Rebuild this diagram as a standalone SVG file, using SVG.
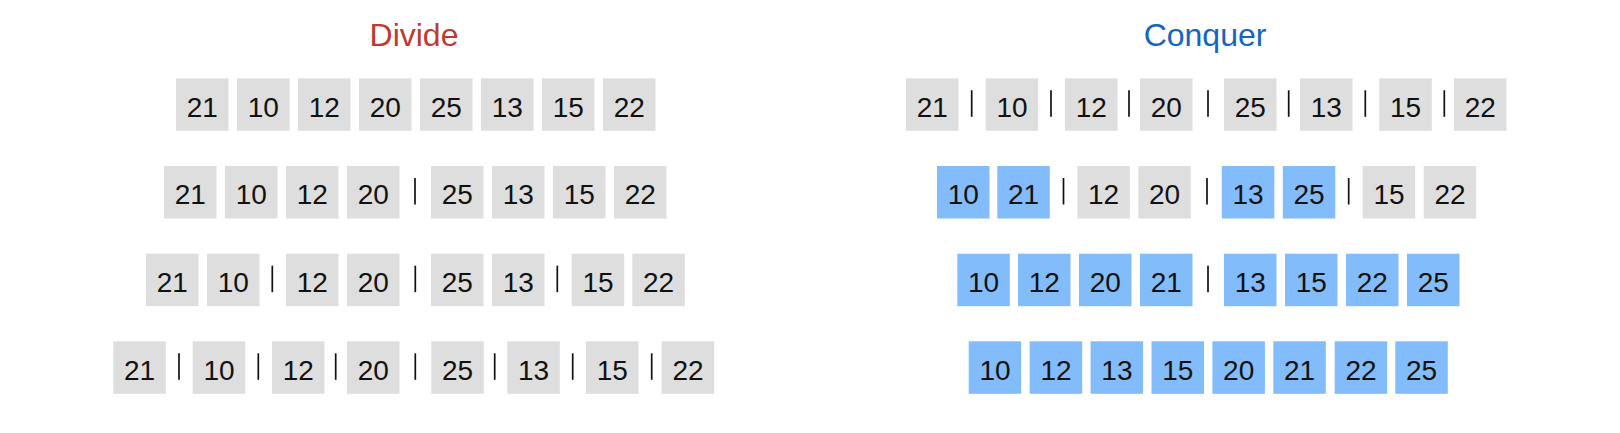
<svg xmlns="http://www.w3.org/2000/svg" width="1620" height="433" viewBox="0 0 1620 433">
<style>
.g{fill:#dedede}
.b{fill:#82bcfa}
.t{font-family:"Liberation Sans",Arial,sans-serif;font-size:28px;fill:#111;text-anchor:middle}
.h{font-family:"Liberation Sans",Arial,sans-serif;font-size:32px;text-anchor:middle}
.s{stroke:#111;stroke-width:1.7}
</style>
<defs>
<rect id="bx" width="52.5" height="52.5"/>
</defs>
<g id="title-divide"><text class="h" x="414" y="45.5" fill="#bf3a30">Divide</text></g>
<g id="title-conquer"><text class="h" x="1205" y="45.5" fill="#1565c0">Conquer</text></g>

<!-- Divide row 1 -->
<g id="d1-1"><use href="#bx" class="g" x="176" y="78.3"/><text class="t" x="202.3" y="116.7">21</text></g>
<g id="d1-2"><use href="#bx" class="g" x="237" y="78.3"/><text class="t" x="263.3" y="116.7">10</text></g>
<g id="d1-3"><use href="#bx" class="g" x="298" y="78.3"/><text class="t" x="324.3" y="116.7">12</text></g>
<g id="d1-4"><use href="#bx" class="g" x="359" y="78.3"/><text class="t" x="385.3" y="116.7">20</text></g>
<g id="d1-5"><use href="#bx" class="g" x="420" y="78.3"/><text class="t" x="446.3" y="116.7">25</text></g>
<g id="d1-6"><use href="#bx" class="g" x="481" y="78.3"/><text class="t" x="507.3" y="116.7">13</text></g>
<g id="d1-7"><use href="#bx" class="g" x="542" y="78.3"/><text class="t" x="568.3" y="116.7">15</text></g>
<g id="d1-8"><use href="#bx" class="g" x="603" y="78.3"/><text class="t" x="629.3" y="116.7">22</text></g>

<!-- Divide row 2 -->
<g id="d2-1"><use href="#bx" class="g" x="164" y="166"/><text class="t" x="190.3" y="204.4">21</text></g>
<g id="d2-2"><use href="#bx" class="g" x="225" y="166"/><text class="t" x="251.3" y="204.4">10</text></g>
<g id="d2-3"><use href="#bx" class="g" x="286" y="166"/><text class="t" x="312.3" y="204.4">12</text></g>
<g id="d2-4"><use href="#bx" class="g" x="347" y="166"/><text class="t" x="373.3" y="204.4">20</text></g>
<g id="d2-5"><use href="#bx" class="g" x="431" y="166"/><text class="t" x="457.3" y="204.4">25</text></g>
<g id="d2-6"><use href="#bx" class="g" x="492" y="166"/><text class="t" x="518.3" y="204.4">13</text></g>
<g id="d2-7"><use href="#bx" class="g" x="553" y="166"/><text class="t" x="579.3" y="204.4">15</text></g>
<g id="d2-8"><use href="#bx" class="g" x="614" y="166"/><text class="t" x="640.3" y="204.4">22</text></g>

<!-- Divide row 3 -->
<g id="d3-1"><use href="#bx" class="g" x="146" y="253.7"/><text class="t" x="172.3" y="292.1">21</text></g>
<g id="d3-2"><use href="#bx" class="g" x="207" y="253.7"/><text class="t" x="233.3" y="292.1">10</text></g>
<g id="d3-3"><use href="#bx" class="g" x="286" y="253.7"/><text class="t" x="312.3" y="292.1">12</text></g>
<g id="d3-4"><use href="#bx" class="g" x="347" y="253.7"/><text class="t" x="373.3" y="292.1">20</text></g>
<g id="d3-5"><use href="#bx" class="g" x="431" y="253.7"/><text class="t" x="457.3" y="292.1">25</text></g>
<g id="d3-6"><use href="#bx" class="g" x="492" y="253.7"/><text class="t" x="518.3" y="292.1">13</text></g>
<g id="d3-7"><use href="#bx" class="g" x="571.7" y="253.7"/><text class="t" x="598" y="292.1">15</text></g>
<g id="d3-8"><use href="#bx" class="g" x="632.3" y="253.7"/><text class="t" x="658.6" y="292.1">22</text></g>

<!-- Divide row 4 -->
<g id="d4-1"><use href="#bx" class="g" x="113.3" y="341.3"/><text class="t" x="139.6" y="379.7">21</text></g>
<g id="d4-2"><use href="#bx" class="g" x="192.7" y="341.3"/><text class="t" x="219" y="379.7">10</text></g>
<g id="d4-3"><use href="#bx" class="g" x="272" y="341.3"/><text class="t" x="298.3" y="379.7">12</text></g>
<g id="d4-4"><use href="#bx" class="g" x="347" y="341.3"/><text class="t" x="373.3" y="379.7">20</text></g>
<g id="d4-5"><use href="#bx" class="g" x="431.3" y="341.3"/><text class="t" x="457.6" y="379.7">25</text></g>
<g id="d4-6"><use href="#bx" class="g" x="507.3" y="341.3"/><text class="t" x="533.6" y="379.7">13</text></g>
<g id="d4-7"><use href="#bx" class="g" x="586" y="341.3"/><text class="t" x="612.3" y="379.7">15</text></g>
<g id="d4-8"><use href="#bx" class="g" x="661.7" y="341.3"/><text class="t" x="688" y="379.7">22</text></g>

<!-- Conquer row 1 -->
<g id="c1-1"><use href="#bx" class="g" x="906" y="78.3"/><text class="t" x="932.3" y="116.7">21</text></g>
<g id="c1-2"><use href="#bx" class="g" x="985.7" y="78.3"/><text class="t" x="1012" y="116.7">10</text></g>
<g id="c1-3"><use href="#bx" class="g" x="1065" y="78.3"/><text class="t" x="1091.3" y="116.7">12</text></g>
<g id="c1-4"><use href="#bx" class="g" x="1140" y="78.3"/><text class="t" x="1166.3" y="116.7">20</text></g>
<g id="c1-5"><use href="#bx" class="g" x="1224" y="78.3"/><text class="t" x="1250.3" y="116.7">25</text></g>
<g id="c1-6"><use href="#bx" class="g" x="1300" y="78.3"/><text class="t" x="1326.3" y="116.7">13</text></g>
<g id="c1-7"><use href="#bx" class="g" x="1379.3" y="78.3"/><text class="t" x="1405.6" y="116.7">15</text></g>
<g id="c1-8"><use href="#bx" class="g" x="1454" y="78.3"/><text class="t" x="1480.3" y="116.7">22</text></g>

<!-- Conquer row 2 -->
<g id="c2-1"><use href="#bx" class="b" x="937" y="166"/><text class="t" x="963.3" y="204.4">10</text></g>
<g id="c2-2"><use href="#bx" class="b" x="997.3" y="166"/><text class="t" x="1023.6" y="204.4">21</text></g>
<g id="c2-3"><use href="#bx" class="g" x="1077.3" y="166"/><text class="t" x="1103.6" y="204.4">12</text></g>
<g id="c2-4"><use href="#bx" class="g" x="1138.3" y="166"/><text class="t" x="1164.6" y="204.4">20</text></g>
<g id="c2-5"><use href="#bx" class="b" x="1221.8" y="166"/><text class="t" x="1248.1" y="204.4">13</text></g>
<g id="c2-6"><use href="#bx" class="b" x="1282.8" y="166"/><text class="t" x="1309.1" y="204.4">25</text></g>
<g id="c2-7"><use href="#bx" class="g" x="1362.7" y="166"/><text class="t" x="1389" y="204.4">15</text></g>
<g id="c2-8"><use href="#bx" class="g" x="1423.7" y="166"/><text class="t" x="1450" y="204.4">22</text></g>

<!-- Conquer row 3 -->
<g id="c3-1"><use href="#bx" class="b" x="957.3" y="253.7"/><text class="t" x="983.6" y="292.1">10</text></g>
<g id="c3-2"><use href="#bx" class="b" x="1018" y="253.7"/><text class="t" x="1044.3" y="292.1">12</text></g>
<g id="c3-3"><use href="#bx" class="b" x="1079" y="253.7"/><text class="t" x="1105.3" y="292.1">20</text></g>
<g id="c3-4"><use href="#bx" class="b" x="1140" y="253.7"/><text class="t" x="1166.3" y="292.1">21</text></g>
<g id="c3-5"><use href="#bx" class="b" x="1224" y="253.7"/><text class="t" x="1250.3" y="292.1">13</text></g>
<g id="c3-6"><use href="#bx" class="b" x="1285" y="253.7"/><text class="t" x="1311.3" y="292.1">15</text></g>
<g id="c3-7"><use href="#bx" class="b" x="1346" y="253.7"/><text class="t" x="1372.3" y="292.1">22</text></g>
<g id="c3-8"><use href="#bx" class="b" x="1407" y="253.7"/><text class="t" x="1433.3" y="292.1">25</text></g>

<!-- Conquer row 4 -->
<g id="c4-1"><use href="#bx" class="b" x="968.7" y="341.3"/><text class="t" x="995" y="379.7">10</text></g>
<g id="c4-2"><use href="#bx" class="b" x="1029.7" y="341.3"/><text class="t" x="1056" y="379.7">12</text></g>
<g id="c4-3"><use href="#bx" class="b" x="1090.6" y="341.3"/><text class="t" x="1116.9" y="379.7">13</text></g>
<g id="c4-4"><use href="#bx" class="b" x="1151.5" y="341.3"/><text class="t" x="1177.8" y="379.7">15</text></g>
<g id="c4-5"><use href="#bx" class="b" x="1212.4" y="341.3"/><text class="t" x="1238.7" y="379.7">20</text></g>
<g id="c4-6"><use href="#bx" class="b" x="1273.3" y="341.3"/><text class="t" x="1299.6" y="379.7">21</text></g>
<g id="c4-7"><use href="#bx" class="b" x="1334.7" y="341.3"/><text class="t" x="1361" y="379.7">22</text></g>
<g id="c4-8"><use href="#bx" class="b" x="1395.3" y="341.3"/><text class="t" x="1421.6" y="379.7">25</text></g>

<g id="separators" class="s">
<line x1="415" y1="178" x2="415" y2="204.5"/>
<line x1="272.3" y1="265.7" x2="272.3" y2="292.2"/>
<line x1="415.3" y1="265.7" x2="415.3" y2="292.2"/>
<line x1="557.3" y1="265.7" x2="557.3" y2="292.2"/>
<line x1="179" y1="353.3" x2="179" y2="379.8"/>
<line x1="258.3" y1="353.3" x2="258.3" y2="379.8"/>
<line x1="335.7" y1="353.3" x2="335.7" y2="379.8"/>
<line x1="415.3" y1="353.3" x2="415.3" y2="379.8"/>
<line x1="494.7" y1="353.3" x2="494.7" y2="379.8"/>
<line x1="572.7" y1="353.3" x2="572.7" y2="379.8"/>
<line x1="651.7" y1="353.3" x2="651.7" y2="379.8"/>
<line x1="971.7" y1="90.3" x2="971.7" y2="116.8"/>
<line x1="1051" y1="90.3" x2="1051" y2="116.8"/>
<line x1="1129" y1="90.3" x2="1129" y2="116.8"/>
<line x1="1208" y1="90.3" x2="1208" y2="116.8"/>
<line x1="1288.7" y1="90.3" x2="1288.7" y2="116.8"/>
<line x1="1365.3" y1="90.3" x2="1365.3" y2="116.8"/>
<line x1="1444.3" y1="90.3" x2="1444.3" y2="116.8"/>
<line x1="1063.5" y1="178" x2="1063.5" y2="204.5"/>
<line x1="1207" y1="178" x2="1207" y2="204.5"/>
<line x1="1348.7" y1="178" x2="1348.7" y2="204.5"/>
<line x1="1208" y1="265.7" x2="1208" y2="292.2"/>
</g>
</svg>
